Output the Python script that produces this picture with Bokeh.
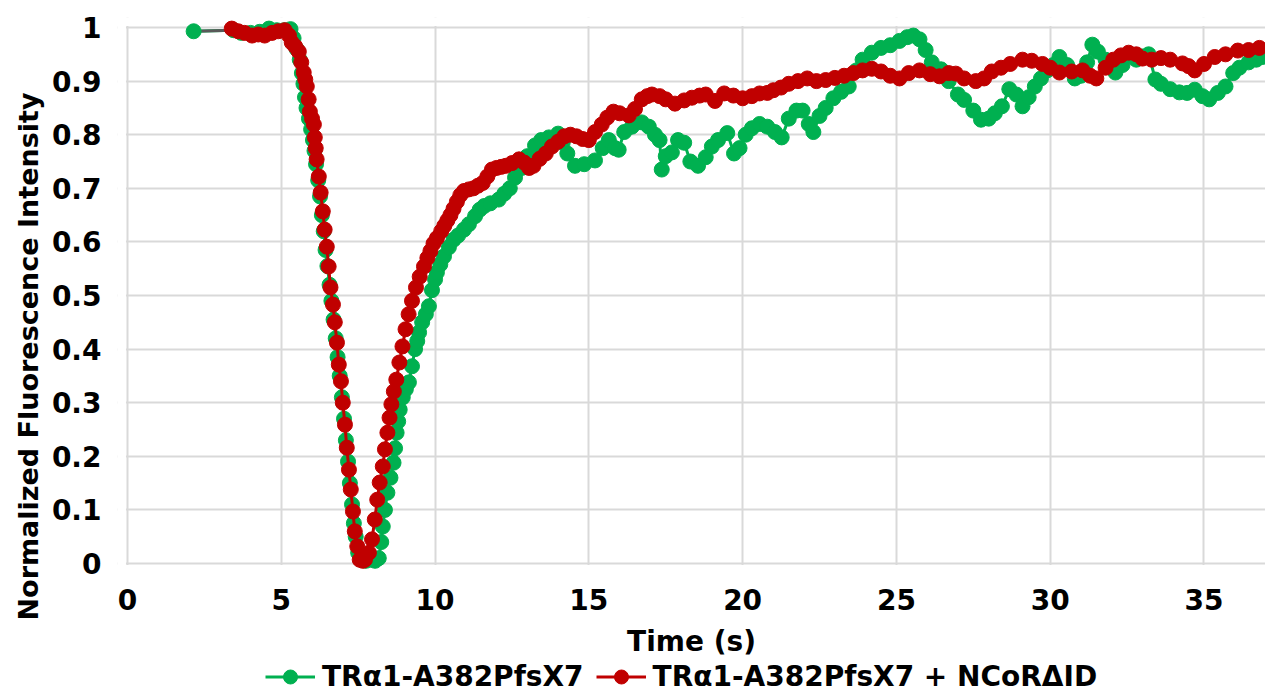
from bokeh.plotting import figure
from bokeh.models import (Range1d, FixedTicker, CustomJSTickFormatter, Legend,
                          LegendItem, Title, BoxAnnotation)
from bokeh.embed import file_html
from bokeh.resources import INLINE

# ---------------- data ----------------
x_ticks = [0, 5, 10, 15, 20, 25, 30, 35]
y_ticks = [0, 0.1, 0.2, 0.3, 0.4, 0.5, 0.6, 0.7, 0.8, 0.9, 1.0]

label_green = "TRα1-A382PfsX7"
label_red = "TRα1-A382PfsX7 + NCoRΔID"

t_green = [2.15, 3.45, 3.7, 4.0, 4.3, 4.6, 4.85, 5.1, 5.3, 5.4, 5.5, 5.6, 5.67, 5.72,
           5.77, 5.82, 5.9, 5.97, 6.03, 6.08, 6.13, 6.2, 6.26, 6.32, 6.38, 6.44, 6.5,
           6.57, 6.63, 6.7, 6.77, 6.83, 6.9, 6.97, 7.04, 7.1, 7.17, 7.23, 7.3, 7.36,
           7.42, 7.5, 7.6, 7.75, 7.9, 8.05, 8.17, 8.25, 8.3, 8.37, 8.45, 8.55, 8.65,
           8.7, 8.75, 8.8, 8.85, 8.95, 9.05, 9.15, 9.25, 9.35, 9.42, 9.48, 9.58, 9.7,
           9.8, 9.9, 10.0, 10.06, 10.17, 10.29, 10.45, 10.6, 10.75, 10.94, 11.1, 11.3,
           11.45, 11.6, 11.8, 12.07, 12.25, 12.43, 12.6, 12.82, 13.0, 13.25, 13.45,
           13.7, 14.0, 14.15, 14.3, 14.55, 14.85, 15.2, 15.45, 15.65, 15.85, 15.97,
           16.15, 16.4, 16.72, 16.95, 17.15, 17.3, 17.37, 17.5, 17.7, 17.9, 18.1, 18.3,
           18.55, 18.8, 19.0, 19.2, 19.5, 19.72, 19.9, 20.1, 20.3, 20.55, 20.8, 21.05,
           21.27, 21.5, 21.75, 21.95, 22.15, 22.3, 22.5, 22.7, 22.95, 23.2, 23.45,
           23.7, 23.9, 24.2, 24.5, 24.8, 25.1, 25.35, 25.55, 25.75, 25.95, 26.15,
           26.45, 26.7, 27.0, 27.2, 27.5, 27.75, 28.0, 28.2, 28.43, 28.67, 28.9, 29.1,
           29.3, 29.5, 29.7, 29.9, 30.1, 30.3, 30.55, 30.8, 31.0, 31.2, 31.37, 31.55,
           31.8, 32.0, 32.12, 32.35, 32.57, 32.8, 33.0, 33.2, 33.42, 33.6, 33.9, 34.2,
           34.45, 34.7, 34.95, 35.17, 35.45, 35.7, 35.95, 36.15, 36.45, 36.7, 36.9]
v_green = [0.993, 0.995, 0.99, 0.99, 0.992, 0.998, 0.995, 0.995, 0.997, 0.98, 0.96,
           0.94, 0.915, 0.895, 0.87, 0.85, 0.83, 0.81, 0.79, 0.77, 0.745, 0.715, 0.685,
           0.65, 0.62, 0.585, 0.555, 0.52, 0.49, 0.455, 0.42, 0.385, 0.35, 0.31, 0.27,
           0.23, 0.19, 0.15, 0.11, 0.075, 0.05, 0.02, 0.008, 0.005, 0.007, 0.005,
           0.01, 0.04, 0.069, 0.1, 0.132, 0.16, 0.188, 0.215, 0.244, 0.265, 0.287,
           0.31, 0.325, 0.338, 0.368, 0.4, 0.415, 0.431, 0.45, 0.465, 0.48, 0.51, 0.53,
           0.543, 0.558, 0.573, 0.59, 0.604, 0.612, 0.623, 0.633, 0.648, 0.66, 0.667,
           0.672, 0.679, 0.69, 0.7, 0.72, 0.738, 0.76, 0.78, 0.79, 0.795, 0.802, 0.785,
           0.765, 0.742, 0.745, 0.752, 0.775, 0.79, 0.775, 0.772, 0.805, 0.815, 0.823,
           0.815, 0.8, 0.79, 0.735, 0.76, 0.767, 0.79, 0.785, 0.75, 0.742, 0.758,
           0.778, 0.79, 0.803, 0.765, 0.775, 0.8, 0.812, 0.82, 0.815, 0.805, 0.795,
           0.83, 0.845, 0.845, 0.82, 0.805, 0.835, 0.85, 0.868, 0.88, 0.89, 0.92, 0.94,
           0.953, 0.962, 0.967, 0.975, 0.982, 0.985, 0.978, 0.958, 0.935, 0.922, 0.9,
           0.875, 0.865, 0.845, 0.828, 0.83, 0.84, 0.853, 0.885, 0.875, 0.853, 0.87,
           0.89, 0.905, 0.92, 0.93, 0.945, 0.93, 0.905, 0.91, 0.935, 0.968, 0.955,
           0.94, 0.925, 0.916, 0.93, 0.95, 0.94, 0.946, 0.95, 0.903, 0.895, 0.885,
           0.879, 0.878, 0.884, 0.872, 0.866, 0.878, 0.89, 0.915, 0.925, 0.935, 0.94,
           0.945]

t_red = [3.39, 3.6, 3.81, 4.05, 4.25, 4.46, 4.7, 4.9, 5.11, 5.25, 5.34, 5.45, 5.57,
         5.65, 5.73, 5.78, 5.83, 5.89, 5.93, 6.0, 6.06, 6.09, 6.12, 6.15, 6.22, 6.28,
         6.35, 6.41, 6.48, 6.54, 6.6, 6.68, 6.74, 6.81, 6.87, 6.94, 7.0, 7.07, 7.13,
         7.2, 7.26, 7.33, 7.39, 7.47, 7.55, 7.65, 7.72, 7.85, 7.95, 8.04, 8.12, 8.2,
         8.3, 8.37, 8.45, 8.52, 8.58, 8.66, 8.74, 8.84, 8.94, 9.04, 9.14, 9.25, 9.38,
         9.5, 9.64, 9.75, 9.85, 9.95, 10.06, 10.2, 10.3, 10.4, 10.5, 10.6, 10.71,
         10.82, 10.94, 11.1, 11.25, 11.4, 11.55, 11.7, 11.85, 12.0, 12.15, 12.3, 12.5,
         12.73, 12.9, 13.06, 13.2, 13.4, 13.6, 13.8, 14.0, 14.2, 14.4, 14.6, 14.8,
         15.0, 15.2, 15.42, 15.6, 15.8, 16.0, 16.3, 16.5, 16.72, 16.9, 17.05, 17.3,
         17.5, 17.8, 18.1, 18.35, 18.6, 18.8, 19.1, 19.4, 19.7, 20.0, 20.3, 20.55,
         20.8, 21.0, 21.25, 21.5, 21.8, 22.1, 22.4, 22.7, 23.0, 23.3, 23.6, 23.9,
         24.2, 24.5, 24.8, 25.1, 25.4, 25.75, 26.1, 26.4, 26.7, 26.93, 27.2, 27.58,
         27.85, 28.1, 28.4, 28.7, 29.1, 29.4, 29.75, 30.0, 30.3, 30.7, 31.05, 31.3,
         31.5, 31.8, 32.05, 32.3, 32.55, 32.8, 33.0, 33.3, 33.6, 33.9, 34.3, 34.5,
         34.7, 35.0, 35.35, 35.7, 36.1, 36.45, 36.8]
v_red = [0.998, 0.993, 0.99, 0.985, 0.987, 0.985, 0.99, 0.993, 0.995, 0.985, 0.972,
         0.965, 0.955, 0.935, 0.916, 0.903, 0.89, 0.866, 0.843, 0.83, 0.819, 0.795,
         0.775, 0.754, 0.722, 0.692, 0.657, 0.623, 0.591, 0.554, 0.515, 0.483, 0.45,
         0.412, 0.371, 0.34, 0.3, 0.259, 0.216, 0.175, 0.138, 0.097, 0.06, 0.032,
         0.007, 0.005, 0.007, 0.02, 0.045, 0.082, 0.119, 0.151, 0.181, 0.213, 0.244,
         0.272, 0.297, 0.321, 0.343, 0.375, 0.405, 0.437, 0.465, 0.49, 0.515, 0.535,
         0.554, 0.57, 0.583, 0.597, 0.607, 0.62, 0.63, 0.64, 0.65, 0.662, 0.675,
         0.687, 0.695, 0.698, 0.7, 0.705, 0.71, 0.722, 0.735, 0.738, 0.74, 0.742,
         0.747, 0.754, 0.748, 0.738, 0.742, 0.755, 0.765, 0.778, 0.787, 0.797, 0.8,
         0.797, 0.792, 0.79, 0.805, 0.819, 0.832, 0.843, 0.84, 0.836, 0.848, 0.866,
         0.872, 0.875, 0.872, 0.866, 0.858, 0.864, 0.869, 0.873, 0.875, 0.863, 0.877,
         0.873, 0.868, 0.872, 0.877, 0.878, 0.883, 0.888, 0.895, 0.9, 0.905, 0.9,
         0.902, 0.906, 0.91, 0.915, 0.92, 0.923, 0.918, 0.91, 0.905, 0.915, 0.92,
         0.913, 0.909, 0.915, 0.914, 0.905, 0.9, 0.905, 0.918, 0.925, 0.932, 0.94,
         0.938, 0.932, 0.925, 0.916, 0.918, 0.92, 0.91, 0.905, 0.925, 0.94, 0.948,
         0.953, 0.95, 0.942, 0.94, 0.943, 0.94, 0.933, 0.928, 0.92, 0.932, 0.945,
         0.95, 0.957, 0.958, 0.962]

# ---------------- styling ----------------
GREEN = "#00B050"
RED = "#C00000"
GRID = "#D9D9D9"
FONT = "DejaVu Sans"

# frame covers the plot area plus the room used by the x labels and the legend
p = figure(frame_width=1148, frame_height=681,
           min_border_left=117, min_border_right=0, min_border_top=17,
           min_border_bottom=0,
           x_range=Range1d(-0.325, 37.0), y_range=Range1d(-0.2519, 1.0187),
           output_backend="svg", toolbar_location=None)
p.outline_line_color = None
p.background_fill_color = "white"

p.xaxis.ticker = FixedTicker(ticks=x_ticks)
p.yaxis.ticker = FixedTicker(ticks=y_ticks)
p.yaxis.formatter = CustomJSTickFormatter(code="return String(Math.round(tick*10)/10);")

for ax in p.axis:
    ax.major_tick_line_color = None
    ax.minor_tick_line_color = None
    ax.major_tick_out = 0
    ax.major_tick_in = 0
    ax.axis_line_color = None
    ax.major_label_text_font = FONT
    ax.major_label_text_font_style = "bold"
    ax.major_label_text_font_size = "28px"
    ax.major_label_text_color = "black"

p.xaxis.fixed_location = 0
p.xaxis.major_label_standoff = 26
p.yaxis.major_label_standoff = 16

p.xaxis.axis_label = "Time (s)"
p.xaxis.axis_label_text_font = FONT
p.xaxis.axis_label_text_font_style = "bold"
p.xaxis.axis_label_text_font_size = "28px"
p.xaxis.axis_label_text_color = "black"
p.xaxis.axis_label_standoff = 11

p.grid.grid_line_color = GRID
p.grid.grid_line_width = 2
p.xgrid.ticker = FixedTicker(ticks=x_ticks)
p.ygrid.ticker = FixedTicker(ticks=y_ticks)

# keep the grid inside the 0..1 band
p.add_layout(BoxAnnotation(bottom=y_ticks[-1] + 0.003, fill_color="white", fill_alpha=1,
                           line_color=None, level="underlay"))
p.add_layout(BoxAnnotation(top=y_ticks[0] - 0.003, fill_color="white", fill_alpha=1,
                           line_color=None, level="underlay"))
p.add_layout(BoxAnnotation(right=x_ticks[0] - 0.05, fill_color="white", fill_alpha=1,
                           line_color=None, level="underlay"))

ytitle = Title(text="Normalized Fluorescence Intensity", align="left", offset=78,
               text_font=FONT, text_font_style="bold", text_font_size="27px",
               text_color="black")
p.add_layout(ytitle, "left")

gl = p.line(t_green, v_green, line_color=GREEN, line_width=3)
p.line(t_green[:2], v_green[:2], line_color="#595959", line_width=3)
gs = p.scatter(t_green, v_green, size=15, fill_color=GREEN, line_color=GREEN)
rl = p.line(t_red, v_red, line_color=RED, line_width=3)
rs = p.scatter(t_red, v_red, size=15, fill_color=RED, line_color=RED)

legend = Legend(items=[LegendItem(label=label_green, renderers=[gl, gs]),
                       LegendItem(label=label_red, renderers=[rl, rs])],
                orientation="horizontal", location=(148, 4),
                label_text_font=FONT, label_text_font_style="bold",
                label_text_font_size="28px", label_text_color="black",
                glyph_width=50, glyph_height=35, label_height=24,
                label_standoff=7, spacing=12,
                padding=0, margin=0, border_line_color=None,
                background_fill_alpha=0)
p.add_layout(legend, "center")

open("out.html", "w").write(file_html(p, INLINE))
